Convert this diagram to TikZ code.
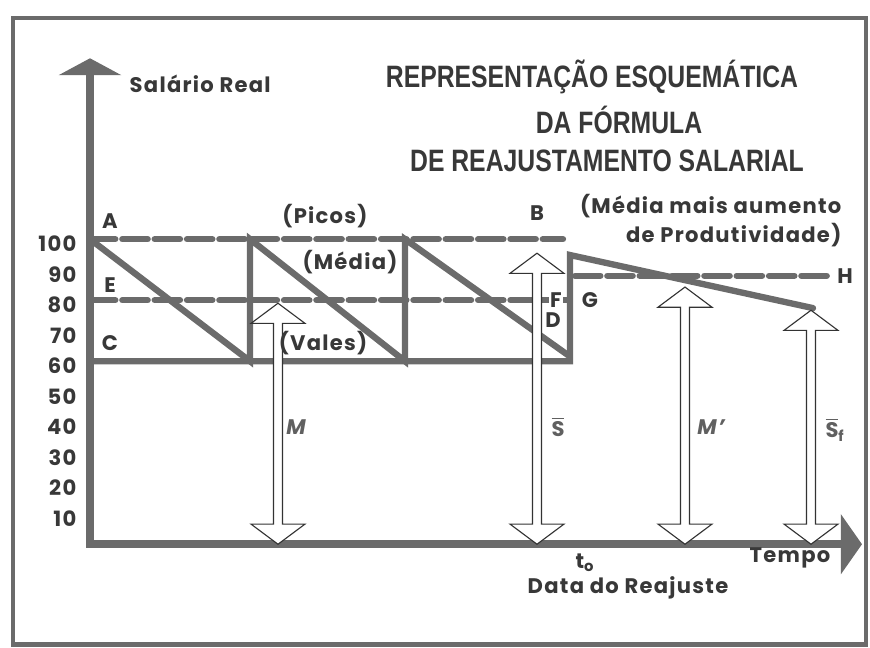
\documentclass[tikz,border=0pt]{standalone}
\usepackage{amsmath}
\usepackage{fontspec}
\setmainfont{Poppins}[LetterSpace=6.0]
\newfontfamily\titlefont{Liberation Sans}[FakeStretch=0.8]
\usepackage{tikz}
\usepackage{tkz-euclide}
\usetikzlibrary{arrows.meta,calc}

\definecolor{ink}{gray}{0.42}
\definecolor{print}{gray}{0.22}

\tikzset{
  axis/.style={line width=6pt, color=ink, line join=miter},
  saw/.style={line width=4.5pt, color=ink},
  level/.style={line width=4.5pt, color=ink, dash pattern=on 18pt off 5pt},
  hollow/.style={line width=0.8pt, draw=black!80, fill=white},
  frame/.style={line width=3.5pt, color=ink},
  lab/.style={font=\fontsize{15}{18}\selectfont\bfseries, text=print, inner sep=1pt},
  small/.style={font=\fontsize{15}{18}\selectfont\bfseries, text=print!80, inner sep=1pt},
  head/.style={font=\titlefont\fontsize{22}{26}\selectfont\bfseries, text=print, inner sep=0pt}
}

\newcommand{\salarrow}[2]{%
  \draw[hollow] (#1) -- ++(27,6.6) -- ++(-22.5,0) -- ($(#2)+(4.5,-6.6)$)
    -- ++(22.5,0) -- (#2) -- ++(-27,-6.6) -- ++(22.5,0)
    -- ($(#1)+(-4.5,6.6)$) -- ++(-22.5,0) -- cycle;}

\begin{document}
\begin{tikzpicture}[x=0.025cm, y=0.07625cm]
  \useasboundingbox (-90,-33.8) rectangle (780,178.4);
  \draw[frame] (-77,-32.8) rectangle (776,172.5);

  % axes
  \tkzDefPoints{0/0/O, 0/159.3/Y, 772/0/X}
  \draw[axis, {Triangle[length=12pt,width=44pt]}-{Triangle[length=15pt,width=42pt]}] (Y) -- (O) -- (X);
  \foreach \v in {10,20,...,100}
    \node[lab, anchor=east] (y\v) at (-12,\v-1.5) {\v};

  % levels
  \tkzDefPoints{0/100/A, 473/100/B, 0/80/E, 480/80/F, 0/60/C, 478/62/D, 485/88/G, 740/88/H}
  \tkzDefPoints{160/60/q1, 160/100/q2, 315/60/q3, 315/100/q4, 480/60/R0, 480/94.8/R1, 723/77.4/R2}
  \tkzDrawSegments[level](A,B E,F G,H)
  \tkzDrawPolySeg[saw](A,q1,q2,q3,q4,D)
  \tkzDrawPolySeg[saw](C,R0,R1,R2)

  % arrows
  \tkzDefPoints{188/0/mlow, 188/79/mtop, 447/0/slow, 447/95.4/stop, 595/0/nlow, 595/84.3/ntop, 721/0/flow, 721/76.7/ftop}
  \salarrow{mlow}{mtop}
  \salarrow{slow}{stop}
  \salarrow{nlow}{ntop}
  \salarrow{flow}{ftop}

  % texts
  \node[lab, anchor=west] (real) at (38,151) {Salário Real};
  \node[head] (tit1) at (502,153.1) {REPRESENTAÇÃO ESQUEMÁTICA};
  \node[head] (tit2) at (529,139) {DA FÓRMULA};
  \node[head] (tit3) at (517,125.6) {DE REAJUSTAMENTO SALARIAL};
  \node[lab] (labA) at (20,106) {A};
  \node[lab] (labE) at (20,85) {E};
  \node[lab] (labC) at (20,66) {C};
  \node[lab] (labB) at (447,108.5) {B};
  \node[lab, fill=white] (labF) at (466,80) {F};
  \node[lab] (labD) at (463,73.4) {D};
  \node[lab] (labG) at (500,80) {G};
  \node[lab, fill=white] (labH) at (755,88) {H};
  \node[lab] (picos) at (235,107.5) {(Picos)};
  \node[lab] (media) at (260,92.5) {(Média)};
  \node[lab] (vales) at (233,66) {(Vales)};
  \node[lab, anchor=east] (mais) at (753,111) {(Média mais aumento};
  \node[lab, anchor=east] (prod) at (753,101.3) {de Produtividade)};
  \node[small] (labM) at (206,38.4) {\itshape M};
  \node[small] (labS) at (468,38.4) {$\overline{\text{S}}$};
  \node[small] (labM2) at (621,38.4) {\itshape M’};
  \node[small] (labSf) at (745,37.5) {$\overline{\text{S}}_{\text{f}}$};
  \node[lab] (tzero) at (495,-6) {t$_{\text{o}}$};
  \node[lab] (data) at (538,-14.4) {Data do Reajuste};
  \node[lab, anchor=east] (tempo) at (742,-4.6) {Tempo};
\end{tikzpicture}
\end{document}
